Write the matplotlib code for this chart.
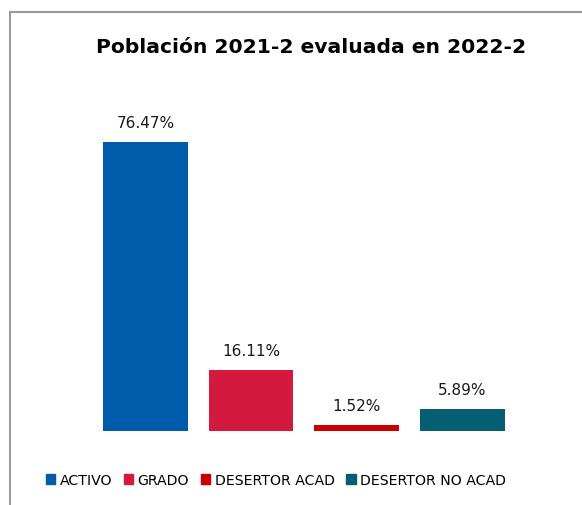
import matplotlib.pyplot as plt
from matplotlib.lines import Line2D

categories = ["ACTIVO", "GRADO", "DESERTOR ACAD", "DESERTOR NO ACAD"]
values = [76.47, 16.11, 1.52, 5.89]
colors = ["#005BAA", "#D31A3E", "#CC0000", "#065E73"]

plt.rcParams['font.family'] = ['DejaVu Sans']

fig = plt.figure(figsize=(5.82, 5.06), dpi=100)
ax = fig.add_axes([0.159, 0.1462, 0.726, 0.672])

x = range(len(categories))
bars = ax.bar(x, values, width=0.8, color=colors, label=categories)
for b, v in zip(bars, values):
    ax.text(b.get_x() + b.get_width() / 2, v + 3.2, f"{v:.2f}%",
            ha="center", va="bottom", fontsize=11, color="#1a1a1a")

ax.set_xlim(-0.5, 3.5)
ax.set_ylim(0, 90)
ax.axis("off")

fig.text(0.535, 0.906, "Población 2021-2 evaluada en 2022-2",
         ha="center", va="center", fontsize=14.6, fontweight="bold")

handles = [plt.Rectangle((0, 0), 1, 1, color=c) for c in colors]
fig.legend(handles, categories, loc="center", bbox_to_anchor=(0.474, 0.05),
           ncol=4, frameon=False, fontsize=10.2, handlelength=0.7,
           handleheight=0.7, handletextpad=0.3, columnspacing=0.8)

# chart border (top and left edges)
fig.add_artist(Line2D([10 / 582, 10 / 582], [0, 1 - 13 / 506],
                      transform=fig.transFigure, color="#9a9a9a", lw=1.5))
fig.add_artist(Line2D([10 / 582, 1], [1 - 13 / 506, 1 - 13 / 506],
                      transform=fig.transFigure, color="#9a9a9a", lw=1.5))

fig.savefig("out.png", dpi=100)
